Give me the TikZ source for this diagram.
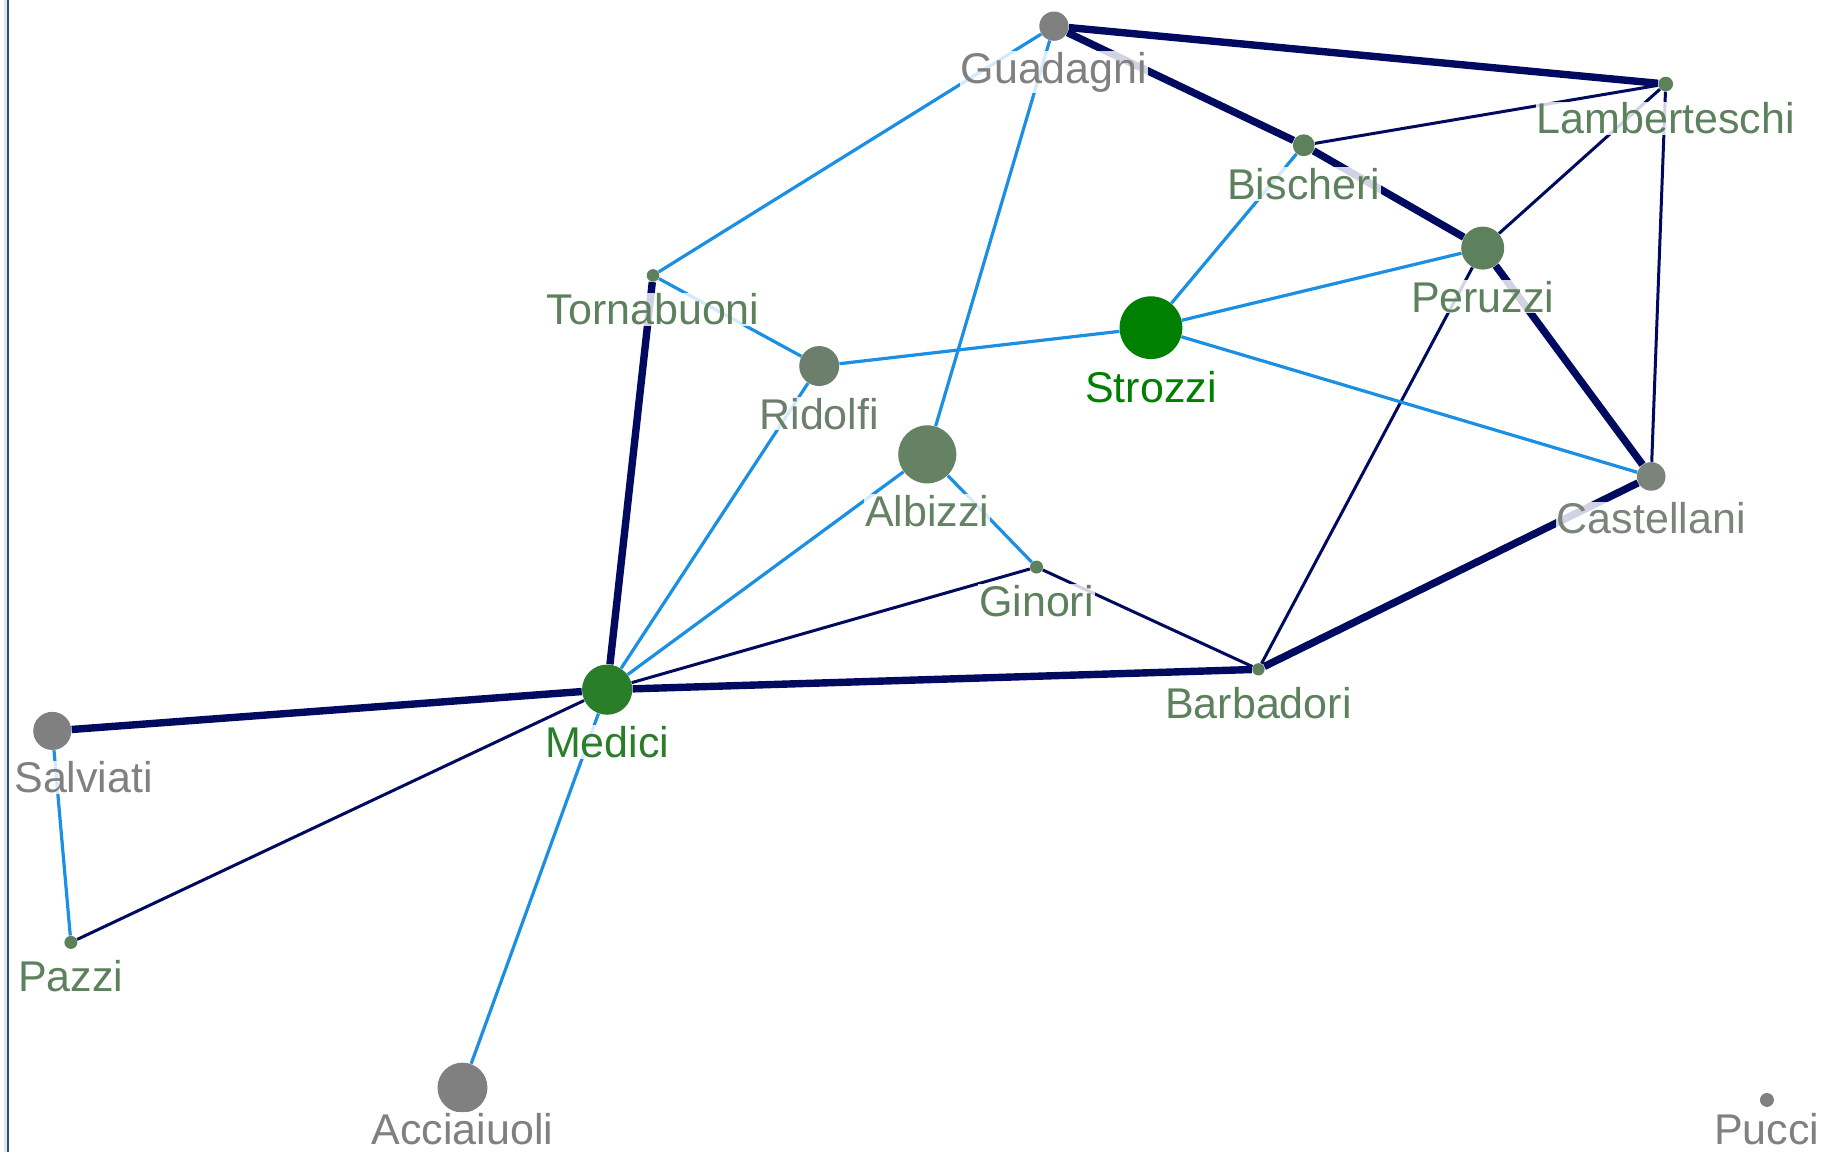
\documentclass[tikz,border=0pt]{standalone}
\usepackage{fontspec}
\setmainfont{Liberation Sans}
\definecolor{cgray}{HTML}{808080}
\definecolor{cgreen}{HTML}{5D815D}
\definecolor{cridolfi}{HTML}{6C7F6C}
\definecolor{calbizzi}{HTML}{658265}
\definecolor{ccast}{HTML}{7A847A}
\definecolor{cmedici}{HTML}{2A7E2A}
\definecolor{cstrozzi}{HTML}{008000}
\definecolor{navy}{HTML}{000A5F}
\definecolor{lblue}{HTML}{1A8FE3}
\definecolor{border}{HTML}{2A4F80}
\begin{document}
\begin{tikzpicture}[x=0.581pt,y=-0.581pt,
  vtx/.style 2 args={circle, inner sep=0pt, draw=none, fill=#1, minimum size=#2*1.162pt},
  lbl/.style={anchor=base, inner xsep=0.5pt, inner ysep=0.5pt, text=#1,
    fill=white, fill opacity=0.82, text opacity=1,
    font=\fontsize{21.5pt}{25pt}\selectfont},
  heavy/.style={draw=navy, line width=3.7pt},
  light/.style={draw=navy, line width=1.5pt},
  blue/.style={draw=lblue, line width=1.6pt}]
\useasboundingbox (0,0) rectangle (1568,991.4);
\fill[white] (0,0) rectangle (1568,991.4);
\draw[line width=1.6pt, black!10] (4.4,0) -- (4.4,991.4);
\draw[line width=1.2pt, border] (7.1,0) -- (7.1,991.4);
% vertices
\node[vtx={cgray}{12.6}] (gua) at (907,22.5) {};
\node[vtx={cgreen}{6.3}] (lam) at (1433.5,72.3) {};
\node[vtx={cgreen}{9.4}] (bis) at (1122,125) {};
\node[vtx={cgreen}{18.5}] (per) at (1276,213.5) {};
\node[vtx={cstrozzi}{27}] (str) at (990.5,282) {};
\node[vtx={cgreen}{5.4}] (tor) at (562,237) {};
\node[vtx={cridolfi}{17.2}] (rid) at (705,315) {};
\node[vtx={calbizzi}{25}] (alb) at (798,391) {};
\node[vtx={ccast}{12.3}] (cas) at (1421,410) {};
\node[vtx={cgreen}{5.6}] (gin) at (892,488) {};
\node[vtx={cgreen}{5.3}] (bar) at (1083,576) {};
\node[vtx={cmedici}{21.6}] (med) at (522.5,593.5) {};
\node[vtx={cgray}{16.4}] (sal) at (45,629) {};
\node[vtx={cgreen}{5.6}] (paz) at (61,811) {};
\node[vtx={cgray}{21.5}] (acc) at (398,936) {};
\node[vtx={cgray}{6}] (puc) at (1520.6,946.6) {};
% heavy edges
\draw[heavy] (gua) -- (lam);
\draw[heavy] (gua) -- (bis);
\draw[heavy] (bis) -- (per);
\draw[heavy] (per) -- (cas);
\draw[heavy] (cas) -- (bar);
\draw[heavy] (bar) -- (med);
\draw[heavy] (med) -- (sal);
\draw[heavy] (med) -- (tor);
% thin navy edges
\draw[light] (bis) -- (lam);
\draw[light] (lam) -- (per);
\draw[light] (lam) -- (cas);
\draw[light] (per) -- (bar);
\draw[light] (gin) -- (bar);
\draw[light] (gin) -- (med);
\draw[light] (med) -- (paz);
% blue edges
\draw[blue] (gua) -- (tor);
\draw[blue] (gua) -- (alb);
\draw[blue] (bis) -- (str);
\draw[blue] (str) -- (per);
\draw[blue] (str) -- (rid);
\draw[blue] (str) -- (cas);
\draw[blue] (tor) -- (rid);
\draw[blue] (rid) -- (med);
\draw[blue] (alb) -- (med);
\draw[blue] (alb) -- (gin);
\draw[blue] (sal) -- (paz);
\draw[blue] (med) -- (acc);
% labels
\node[lbl=cgray] (gua-l) at (907,71.6) {Guadagni};
\node[lbl=cgreen] (lam-l) at (1433.5,115.3) {Lamberteschi};
\node[lbl=cgreen] (bis-l) at (1122,171.6) {Bischeri};
\node[lbl=cgreen] (per-l) at (1276,268.5) {Peruzzi};
\node[lbl=cstrozzi] (str-l) at (990.5,346) {Strozzi};
\node[lbl=cgreen] (tor-l) at (562,279.4) {Tornabuoni};
\node[lbl=cridolfi] (rid-l) at (705,369.2) {Ridolfi};
\node[lbl=calbizzi] (alb-l) at (798,453) {Albizzi};
\node[lbl=ccast] (cas-l) at (1421,459.3) {Castellani};
\node[lbl=cgreen] (gin-l) at (892,530.6) {Ginori};
\node[lbl=cgreen] (bar-l) at (1083,618.3) {Barbadori};
\node[lbl=cmedici] (med-l) at (522.5,651.6) {Medici};
\node[lbl=cgray] (sal-l) at (72,682.4) {Salviati};
\node[lbl=cgreen] (paz-l) at (61,853.6) {Pazzi};
\node[lbl=cgray] (acc-l) at (398,984.5) {Acciaiuoli};
\node[lbl=cgray] (puc-l) at (1520.5,984.5) {Pucci};
\end{tikzpicture}
\end{document}
